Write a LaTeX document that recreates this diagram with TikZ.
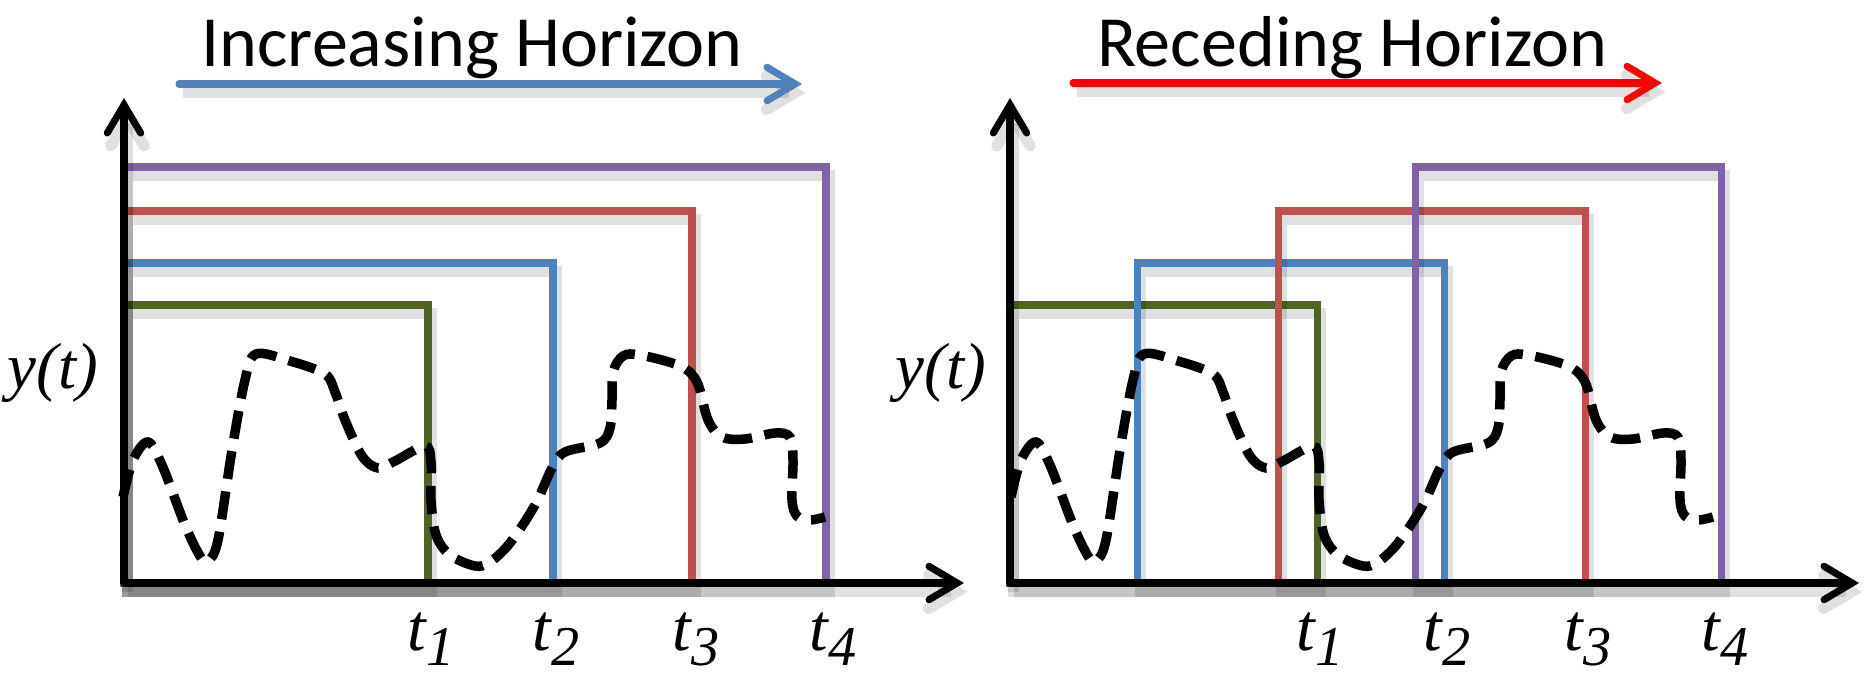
\documentclass[tikz,border=0pt]{standalone}
\usepackage{fontspec}
\setmainfont{Liberation Serif}
\newfontfamily\titlefont{Carlito}
\usetikzlibrary{arrows.meta}
\definecolor{wgreen}{HTML}{4F6228}
\definecolor{wblue}{HTML}{4F81BD}
\definecolor{wred}{HTML}{C0504D}
\definecolor{wpurple}{HTML}{8064A2}
\tikzstyle{shade}=[preaction={draw=black,opacity=0.12,line width=3.2pt,transform canvas={shift={(1pt,-2.5pt)}}}]
\tikzstyle{axis}=[shade,line width=2pt,line cap=round,-{Straight Barb[length=8pt,width=9.5pt,line cap=round]}]
\tikzstyle{window}=[shade,line width=2pt]
\tikzstyle{signal}=[line width=2.7pt,dash pattern=on 8pt off 3.6pt]
\tikzstyle{tlabel}=[anchor=base,inner sep=0pt,font=\fontsize{19}{19}\selectfont\itshape]
\tikzstyle{ylabel}=[anchor=base,inner sep=0pt,font=\fontsize{18.5}{18.5}\selectfont\itshape]
\tikzstyle{heading}=[anchor=base,inner sep=0pt,font=\fontsize{20.5}{20.5}\selectfont\titlefont]
\newcommand{\tsub}[1]{t\raisebox{-4.3pt}{\fontsize{16}{16}\selectfont #1}}
% the measured signal, left panel coordinates
\newcommand{\signalpath}{plot[smooth,tension=0.55] coordinates {
  (123,497) (133,460) (148,442) (162,465) (185,525) (200,556) (208,561)
  (218,540) (232,450) (245,380) (256,354) (290,361) (325,374) (335,392)
  (345,420) (362,456) (378,468) (395,461) (425,446) (431,462) (431,500)
  (436,535) (450,555) (475,566) (490,562) (510,543) (535,505) (552,468)
  (565,452) (600,443) (610,428) (612,400) (613,372) (623,356) (640,355)
  (680,366) (697,382) (708,420) (722,437) (745,439) (775,433) (790,437)
  (793,460) (792,500) (797,516) (810,520) (825,517)}}

\begin{document}
\begin{tikzpicture}[x=0.01cm,y=-0.01cm]
  \useasboundingbox (0,0) rectangle (1870,679);
  % increasing horizon
  \node[heading] (inc) at (472,67) {Increasing Horizon};
  \coordinate (inc1) at (179,84);
  \coordinate (inc2) at (802,84);
  \draw[axis,wblue] (inc1) -- (inc2);
  \draw[window,wgreen]  (124,583) rectangle (428,305);
  \draw[window,wblue]   (124,583) rectangle (553,263);
  \draw[window,wred]    (124,583) rectangle (692,211);
  \draw[window,wpurple] (124,583) rectangle (826,167);
  \draw[signal] \signalpath;
  \coordinate (o1) at (124,583);
  \coordinate (y1) at (124,98);
  \coordinate (x1) at (964,583);
  \draw[axis] (o1) -- (y1);
  \draw[axis] (o1) -- (x1);
  \node[ylabel] (yt1) at (53,388) {y(t)};
  \foreach \i/\x in {1/431,2/556,3/696,4/833}
    \node[tlabel] (t1\i) at (\x,650) {\tsub{\i}};
  % receding horizon
  \node[heading] (rec) at (1352,67) {Receding Horizon};
  \coordinate (rec1) at (1073,83);
  \coordinate (rec2) at (1662,83);
  \draw[axis,red] (rec1) -- (rec2);
  \draw[window,wgreen]  (1010,583) rectangle (1317,305);
  \draw[window,wblue]   (1137,583) rectangle (1444,263);
  \draw[window,wred]    (1278,583) rectangle (1585,211);
  \draw[window,wpurple] (1415,583) rectangle (1721,167);
  \begin{scope}[shift={(888,0)}]
    \draw[signal] \signalpath;
  \end{scope}
  \coordinate (o2) at (1010,583);
  \coordinate (y2) at (1010,98);
  \coordinate (x2) at (1859,583);
  \draw[axis] (o2) -- (y2);
  \draw[axis] (o2) -- (x2);
  \node[ylabel] (yt2) at (941,388) {y(t)};
  \foreach \i/\x in {1/1320,2/1447,3/1588,4/1725}
    \node[tlabel] (t2\i) at (\x,650) {\tsub{\i}};
\end{tikzpicture}
\end{document}
